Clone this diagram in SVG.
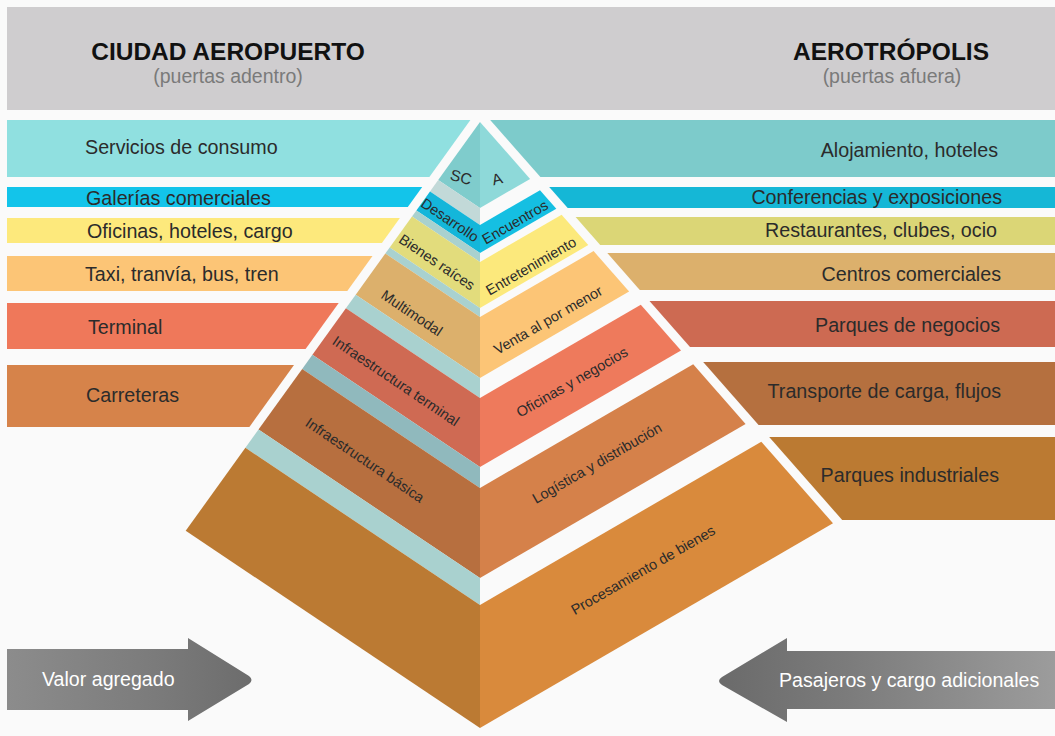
<svg xmlns="http://www.w3.org/2000/svg" width="1055" height="736" viewBox="0 0 1055 736">
<defs>
<style>
.t{font-family:"Liberation Sans",Arial,sans-serif;fill:#2b2b2b}
.band{font-size:19.7px}
.py{font-size:14.5px}
.title{font-family:"Liberation Sans",Arial,sans-serif;font-weight:bold;font-size:24.5px;fill:#111;text-anchor:middle}
.sub{font-family:"Liberation Sans",Arial,sans-serif;font-size:19.5px;fill:#7a7a7a;text-anchor:middle}
.arrowtxt{font-family:"Liberation Sans",Arial,sans-serif;font-size:19.6px;fill:#ffffff}
.gap{fill:#a9d1cf}
</style>
<linearGradient id="gL" x1="7" y1="0" x2="254" y2="0" gradientUnits="userSpaceOnUse">
<stop offset="0" stop-color="#8c8c8c"/><stop offset="0.6" stop-color="#7b7b7b"/><stop offset="1" stop-color="#6c6c6c"/>
</linearGradient>
<linearGradient id="gR" x1="716" y1="0" x2="1055" y2="0" gradientUnits="userSpaceOnUse">
<stop offset="0" stop-color="#6a6a6a"/><stop offset="0.4" stop-color="#7c7c7c"/><stop offset="1" stop-color="#9c9c9c"/>
</linearGradient>
</defs>
<rect x="0" y="0" width="1055" height="736" fill="#fafafa"/>

<g id="header">
<rect x="7" y="7" width="1048" height="103" fill="#cfcdcf"/>
<text class="title" x="228" y="60">CIUDAD AEROPUERTO</text>
<text class="sub" x="228" y="83">(puertas adentro)</text>
<text class="title" x="891" y="60">AEROTRÓPOLIS</text>
<text class="sub" x="892" y="83">(puertas afuera)</text>
</g>

<g id="left-bands">
<g id="lb-servicios"><polygon points="7,120 470.4,120 429.4,177 7,177" fill="#90e0e0"/><text class="t band" x="85" y="154">Servicios de consumo</text></g>
<g id="lb-galerias"><polygon points="7,187 422.2,187 407.8,207 7,207" fill="#13c4ea"/><text class="t band" x="86" y="205">Galerías comerciales</text></g>
<g id="lb-oficinas"><polygon points="7,218 399.9,218 381.9,243 7,243" fill="#fde97c"/><text class="t band" x="87" y="238">Oficinas, hoteles, cargo</text></g>
<g id="lb-taxi"><polygon points="7,256 372.5,256 347.3,291 7,291" fill="#fcc576"/><text class="t band" x="85" y="281">Taxi, tranvía, bus, tren</text></g>
<g id="lb-terminal"><polygon points="7,303 338.7,303 305.6,349 7,349" fill="#ef785a"/><text class="t band" x="88" y="334">Terminal</text></g>
<g id="lb-carreteras"><polygon points="7,365 294,365 249.4,427 7,427" fill="#d6834a"/><text class="t band" x="86" y="402">Carreteras</text></g>
</g>

<g id="right-bands">
<g id="rb-alojamiento"><polygon points="490.2,120 1055,120 1055,177 540.4,177" fill="#7dcbcb"/><text class="t band" x="998" y="157" text-anchor="end">Alojamiento, hoteles</text></g>
<g id="rb-conferencias"><polygon points="549.2,187 1055,187 1055,208 567.7,208" fill="#15b7d6"/><text class="t band" x="1002" y="204" text-anchor="end">Conferencias y exposiciones</text></g>
<g id="rb-restaurantes"><polygon points="575.6,217 1055,217 1055,245 600.2,245" fill="#dbd676"/><text class="t band" x="997" y="237" text-anchor="end">Restaurantes, clubes, ocio</text></g>
<g id="rb-centros"><polygon points="607.3,253 1055,253 1055,290 639.8,290" fill="#dcb06c"/><text class="t band" x="1001" y="281" text-anchor="end">Centros comerciales</text></g>
<g id="rb-parques-negocios"><polygon points="649.5,301 1055,301 1055,347 690,347" fill="#cd6a52"/><text class="t band" x="1000" y="332" text-anchor="end">Parques de negocios</text></g>
<g id="rb-transporte"><polygon points="703.2,362 1055,362 1055,425 758.6,425" fill="#b5703f"/><text class="t band" x="1001" y="398" text-anchor="end">Transporte de carga, flujos</text></g>
<g id="rb-parques-industriales"><polygon points="769.2,437 1055,437 1055,520 842.2,520" fill="#bb7a32"/><text class="t band" x="999" y="482" text-anchor="end">Parques industriales</text></g>
</g>

<g id="pyramid">
<g id="layer1">
<polygon points="480,122 438.2,180 480,208" fill="#7fcccc"/>
<polygon points="480,122 530.1,178.9 480,208" fill="#8ed9d9"/>
<text class="t" font-size="15.5" text-anchor="middle" transform="translate(461,177) rotate(15)" dy="0.35em">SC</text>
<text class="t" font-size="15.5" text-anchor="middle" transform="translate(497,179) rotate(-15)" dy="0.35em">A</text>
</g>
<polygon points="480,208 438.2,180 430,191.5 480,225" fill="#c2d9d8"/>
<g id="layer2">
<polygon points="480,225 430,191.5 416.4,210.4 480,253" fill="#14b6da"/>
<polygon points="480,225 540,190.2 556.3,208.7 480,253" fill="#15bfe2"/>
<text class="t py" text-anchor="middle" transform="translate(450,220) rotate(34)" dy="0.35em">Desarrollo</text>
<text class="t py" text-anchor="middle" transform="translate(515,222) rotate(-30)" dy="0.35em">Encuentros</text>
</g>
<polygon class="gap" points="480,253 416.4,210.4 412,216.4 480,262"/>
<g id="layer3">
<polygon points="480,262 412,216.4 389.7,247.5 480,308" fill="#e2dc7c"/>
<polygon points="480,262 561.6,214.7 588.3,245.1 480,308" fill="#fce97c"/>
<text class="t py" text-anchor="middle" transform="translate(437,262) rotate(34)" dy="0.35em">Bienes raíces</text>
<text class="t py" text-anchor="middle" transform="translate(531,266) rotate(-30)" dy="0.35em">Entretenimiento</text>
</g>
<polygon class="gap" points="480,308 389.7,247.5 385.3,253.5 480,317"/>
<g id="layer4">
<polygon points="480,317 385.3,253.5 355.7,294.7 480,378" fill="#dcb06c"/>
<polygon points="480,317 593.6,251.1 629.1,291.5 480,378" fill="#fcc576"/>
<text class="t py" text-anchor="middle" transform="translate(412,313) rotate(34)" dy="0.35em">Multimodal</text>
<text class="t py" text-anchor="middle" transform="translate(548,320) rotate(-30)" dy="0.35em">Venta al por menor</text>
</g>
<polygon class="gap" points="480,378 355.7,294.7 345.9,308.2 480,398"/>
<g id="layer5">
<polygon points="480,398 345.9,308.2 312.4,354.7 480,467" fill="#cf6a53"/>
<polygon points="480,398 640.8,304.8 681,350.4 480,467" fill="#ee7a5c"/>
<text class="t py" text-anchor="middle" transform="translate(396,381) rotate(34)" dy="0.35em">Infraestructura terminal</text>
<text class="t py" text-anchor="middle" transform="translate(572,382) rotate(-30)" dy="0.35em">Oficinas y negocios</text>
</g>
<polygon points="480,467 312.4,354.7 302.2,368.9 480,488" fill="#90b9bd"/>
<g id="layer6">
<polygon points="480,488 302.2,368.9 258.5,429.6 480,578" fill="#b76f3f"/>
<polygon points="480,488 693.2,364.3 745.6,423.9 480,578" fill="#d5814a"/>
<text class="t py" text-anchor="middle" transform="translate(365,460) rotate(34)" dy="0.35em">Infraestructura básica</text>
<text class="t py" text-anchor="middle" transform="translate(597,463) rotate(-30)" dy="0.35em">Logística y distribución</text>
</g>
<polygon class="gap" points="480,578 258.5,429.6 245.4,447.8 480,605"/>
<g id="layer7">
<polygon points="480,605 245.4,447.8 185.7,530.8 480,728" fill="#bb7a33"/>
<polygon points="480,605 761.3,441.8 833,523.3 480,728" fill="#d98a3c"/>
<text class="t py" text-anchor="middle" transform="translate(643,570) rotate(-30)" dy="0.35em">Procesamiento de bienes</text>
</g>
</g>

<g id="arrow-left">
<path d="M7,649 L188,649 L188,638 L249,676 Q254,680 249,684 L188,721 L188,710 L7,710 Z" fill="url(#gL)"/>
<text class="arrowtxt" x="42" y="686">Valor agregado</text>
</g>
<g id="arrow-right">
<path d="M1055,651 L787,651 L787,638 L722,677 Q716,681 722,685 L787,722 L787,709 L1055,709 Z" fill="url(#gR)"/>
<text class="arrowtxt" x="779" y="687">Pasajeros y cargo adicionales</text>
</g>
</svg>
